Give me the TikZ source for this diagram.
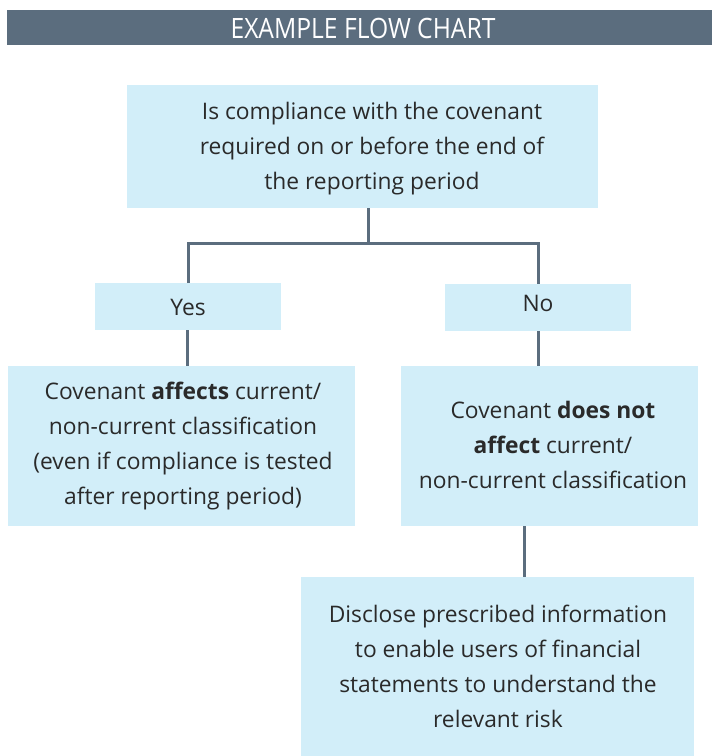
\documentclass[tikz,border=0pt]{standalone}
\usepackage{fontspec}
\setmainfont{Open Sans}
\usepackage{graphicx}
\definecolor{barcol}{HTML}{5B6D7E}
\definecolor{boxcol}{HTML}{D2EEF9}
\definecolor{txtcol}{HTML}{2A2A2A}
\begin{document}
\begin{tikzpicture}[x=1pt,y=-1pt,
  flowbox/.style={fill=boxcol,draw=none,text=txtcol,align=center,inner sep=0pt,
    font=\fontsize{22.8}{35}\selectfont},
  link/.style={draw=barcol,line width=3pt}]
\useasboundingbox (0,0) rectangle (712,756);
% title bar
\fill[barcol] (7,10) rectangle (712,45);
\node[text=white,font=\fontsize{28}{30}\selectfont] (title) at (363,28) {\scalebox{0.88}[1]{EXAMPLE FLOW CHART}};
% boxes
\path[fill=boxcol] (127,85) rectangle (598,208);
\node[flowbox] (q) at (372,148.5) {Is compliance with the covenant\\required on or before the end of\\the reporting period};
\path[fill=boxcol] (95,283) rectangle (281,330);
\node[flowbox] (yes) at (188,307) {Yes};
\path[fill=boxcol] (445,284) rectangle (631,331);
\node[flowbox] (no) at (538,303) {No};
\path[fill=boxcol] (8,366) rectangle (355,526);
\node[flowbox] (aff) at (183,446) {Covenant \textbf{affects} current/\\non-current classification\\(even if compliance is tested\\after reporting period)};
\path[fill=boxcol] (401,366) rectangle (698,526);
\node[flowbox] (naff) at (553,445) {Covenant \textbf{does not}\\\textbf{affect} current/\\non-current classification};
\path[fill=boxcol] (301,577) rectangle (694,756);
\node[flowbox] (disc) at (498,666) {Disclose prescribed information\\to enable users of financial\\statements to understand the\\relevant risk};
% connector ends on the box edges
\coordinate (qbot) at (368,208);
\coordinate (split) at (368,243);
\coordinate (yestop) at (188,283);
\coordinate (notop) at (538,284);
\coordinate (yesbot) at (187,330);
\coordinate (afftop) at (187,366);
\coordinate (nobot) at (538,331);
\coordinate (nafftop) at (538,366);
\coordinate (naffbot) at (524,526);
\coordinate (disctop) at (524,577);
% connectors
\draw[link] (qbot) -- (split);
\draw[link] (yestop) |- (split) -| (notop);
\draw[link] (yesbot) -- (afftop);
\draw[link] (nobot) -- (nafftop);
\draw[link] (naffbot) -- (disctop);
\end{tikzpicture}
\end{document}
